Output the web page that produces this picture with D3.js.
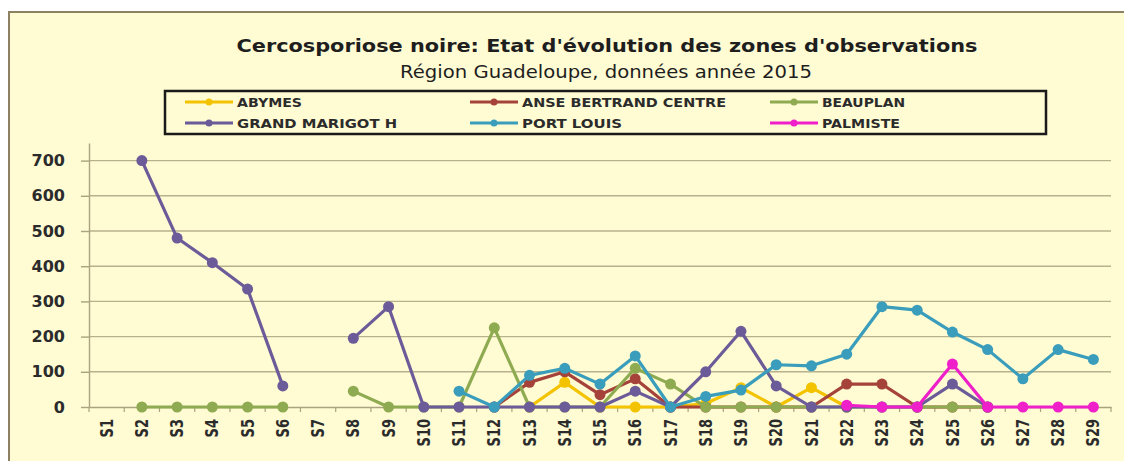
<!DOCTYPE html>
<html>
<head>
<meta charset="utf-8">
<script src="https://cdn.jsdelivr.net/npm/d3@7"></script>
<style>
body { margin: 0; background: #fff; }
svg { display: block; }
</style>
</head>
<body>
<script>
var weeks = ['S1','S2','S3','S4','S5','S6','S7','S8','S9','S10','S11','S12','S13','S14','S15',
             'S16','S17','S18','S19','S20','S21','S22','S23','S24','S25','S26','S27','S28','S29'];

var abymes    = [null,null,null,null,null,null,null,null,null,null,null,null,0,70,0,0,0,10,55,0,55,0,null,null,null,null,null,null,null];
var anseBertrand = [null,null,null,null,null,null,null,null,null,null,null,0,70,100,35,80,0,0,0,0,0,65,65,0,0,0,null,null,null];
var beauplan  = [null,0,0,0,0,0,null,45,0,0,0,225,0,0,0,110,65,0,0,0,0,0,0,0,0,0,null,null,null];
var grandMarigot = [null,700,480,410,335,60,null,195,285,0,0,0,0,0,0,45,0,100,215,60,0,0,0,0,65,0,null,null,null];
var portLouis = [null,null,null,null,null,null,null,null,null,null,45,0,90,110,65,145,0,30,48,120,117,150,285,275,213,163,80,163,135];
var palmiste  = [null,null,null,null,null,null,null,null,null,null,null,null,null,null,null,null,null,null,null,null,null,5,0,0,122,0,0,0,0];

var seriesNames = ['ABYMES','ANSE BERTRAND CENTRE','BEAUPLAN','GRAND MARIGOT H','PORT LOUIS','PALMISTE'];
var yTicks = [0,100,200,300,400,500,600,700];

var titleText = "Cercosporiose noire: Etat d'évolution des zones d'observations";
var subtitleText = 'Région Guadeloupe, données année 2015';

// styling / layout
var seriesColors = ['#f4c300','#a5433b','#8fab52','#6b5b98','#3a9dbb','#ef1fc9'];
var allSeries = [abymes, anseBertrand, beauplan, grandMarigot, portLouis, palmiste];
var legendCols = [185, 470, 770];
var legendRows = [102, 123];
var legendTextW = [65, 204, 83, 160, 100, 78];

var W = 1124, H = 461;
var font = 'DejaVu Sans, sans-serif';

var svg = d3.select('body')
            .append('svg')
            .attr('width', W)
            .attr('height', H);

// chart area
svg.append('rect')
    .attr('x', 9).attr('y', 12)
    .attr('width', W).attr('height', H)
    .attr('fill', '#fffbd3')
    .attr('stroke', '#8c8160')
    .attr('stroke-width', 2);

var x = d3.scaleBand().domain(weeks).range([89, 1111]);
var y = d3.scaleLinear().domain([0, 750]).range([407, 143]);
var cx = function(i){ return x(weeks[i]) + x.bandwidth()/2; };

// gridlines
svg.append('g').selectAll('line')
    .data(yTicks.slice(1))
    .enter().append('line')
        .attr('x1', 89).attr('x2', 1111)
        .attr('y1', function(d){ return y(d); })
        .attr('y2', function(d){ return y(d); })
        .attr('stroke', '#b7b28d')
        .attr('stroke-width', 1.4);

// y axis
var yAxis = svg.append('g')
    .attr('transform', 'translate(89,0)')
    .call(d3.axisLeft(y).tickValues(yTicks).tickSize(8).tickSizeOuter(0).tickPadding(16));
yAxis.select('.domain').attr('stroke', '#a9a37f').attr('stroke-width', 1.4);
yAxis.selectAll('line').attr('stroke', '#a9a37f').attr('stroke-width', 1.4);
yAxis.selectAll('text')
    .attr('font-family', font)
    .attr('font-weight', 'bold')
    .attr('font-size', 16)
    .attr('fill', '#2b2b2b');

// x axis
var xAxis = svg.append('g')
    .attr('transform', 'translate(0,407)')
    .call(d3.axisBottom(x).tickSize(0).tickSizeOuter(0));
xAxis.select('.domain').attr('stroke', '#a9a37f').attr('stroke-width', 1.4);
xAxis.selectAll('text')
    .attr('transform', 'rotate(-90) scale(1,1.3)')
    .attr('x', -12)
    .attr('y', 0)
    .attr('dy', '0.36em')
    .attr('text-anchor', 'end')
    .attr('font-family', font)
    .attr('font-weight', 'bold')
    .attr('font-size', 13)
    .attr('fill', '#2b2b2b');

// small tick marks between categories
svg.append('g').selectAll('line')
    .data(weeks.concat(['end']))
    .enter().append('line')
        .attr('x1', function(d){ return d === 'end' ? 1111 : x(d); })
        .attr('x2', function(d){ return d === 'end' ? 1111 : x(d); })
        .attr('y1', 407).attr('y2', 412)
        .attr('stroke', '#a9a37f')
        .attr('stroke-width', 1.2);

// series lines and markers
var line = d3.line()
    .defined(function(d){ return d !== null; })
    .x(function(d, i){ return cx(i); })
    .y(function(d){ return y(d); });

allSeries.forEach(function(vals, s){
    var g = svg.append('g');
    g.append('path')
        .datum(vals)
        .attr('fill', 'none')
        .attr('stroke', seriesColors[s])
        .attr('stroke-width', 3.2)
        .attr('stroke-linejoin', 'round')
        .attr('d', line);
    g.selectAll('circle')
        .data(vals.map(function(v, i){ return {v: v, i: i}; }).filter(function(d){ return d.v !== null; }))
        .enter().append('circle')
            .attr('cx', function(d){ return cx(d.i); })
            .attr('cy', function(d){ return y(d.v); })
            .attr('r', 5.5)
            .attr('fill', seriesColors[s]);
});

// titles
svg.append('text')
    .attr('x', 607).attr('y', 52)
    .attr('text-anchor', 'middle')
    .attr('font-family', font)
    .attr('font-weight', 'bold')
    .attr('font-size', 18)
    .attr('fill', '#1e1e1e')
    .attr('textLength', 741)
    .attr('lengthAdjust', 'spacingAndGlyphs')
    .text(titleText);

svg.append('text')
    .attr('x', 606).attr('y', 78)
    .attr('text-anchor', 'middle')
    .attr('font-family', font)
    .attr('font-size', 18)
    .attr('fill', '#1e1e1e')
    .attr('textLength', 412)
    .attr('lengthAdjust', 'spacingAndGlyphs')
    .text(subtitleText);

// legend
svg.append('rect')
    .attr('x', 165).attr('y', 91)
    .attr('width', 881).attr('height', 43)
    .attr('fill', 'none')
    .attr('stroke', '#1a1a1a')
    .attr('stroke-width', 2.5);

var legend = svg.append('g').selectAll('g')
    .data(seriesNames)
    .enter().append('g')
        .attr('transform', function(d, i){
            return 'translate(' + legendCols[i % 3] + ',' + legendRows[Math.floor(i / 3)] + ')';
        });
legend.append('line')
    .attr('x1', 0).attr('x2', 48)
    .attr('stroke', function(d, i){ return seriesColors[i]; })
    .attr('stroke-width', 3);
legend.append('circle')
    .attr('cx', 24).attr('r', 3.5)
    .attr('fill', function(d, i){ return seriesColors[i]; });
legend.append('text')
    .attr('x', 52)
    .attr('dy', '0.36em')
    .attr('font-family', font)
    .attr('font-weight', 'bold')
    .attr('font-size', 13)
    .attr('fill', '#2b2b2b')
    .attr('textLength', function(d, i){ return legendTextW[i]; })
    .attr('lengthAdjust', 'spacingAndGlyphs')
    .text(function(d){ return d; });
</script>
</body>
</html>
